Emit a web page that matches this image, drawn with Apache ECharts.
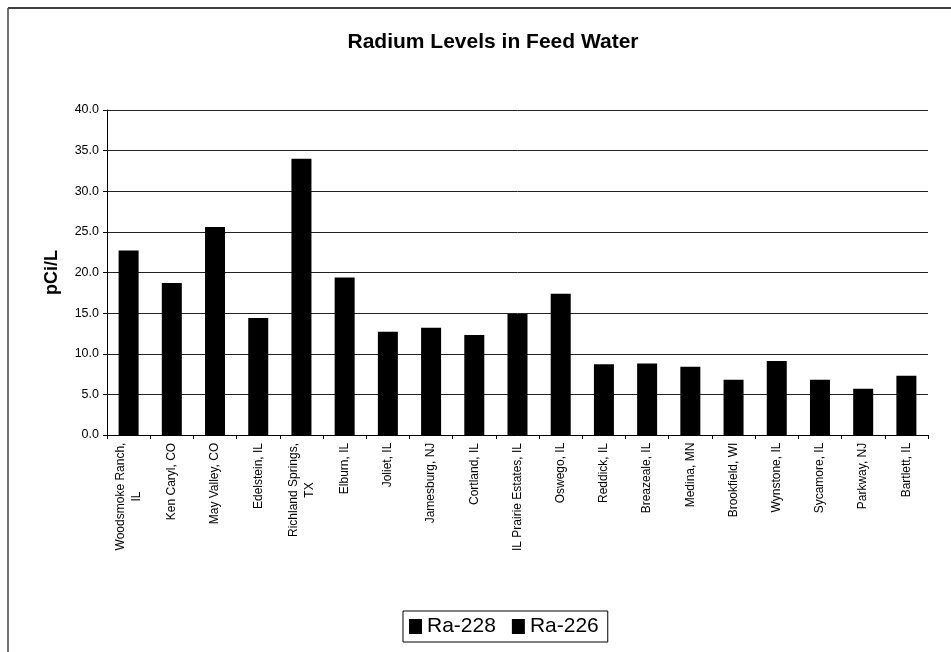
<!DOCTYPE html>
<html>
<head>
<meta charset="utf-8">
<script src="https://cdn.jsdelivr.net/npm/echarts@6/dist/echarts.min.js"></script>
<style>
html,body{margin:0;padding:0;background:#fff;}
#chart{width:951px;height:652px;}
</style>
</head>
<body>
<div id="chart"></div>
<script>
// Data
const categories = [
  "Woodsmoke Ranch,\nIL", "Ken Caryl, CO", "May Valley, CO", "Edelstein, IL",
  "Richland Springs,\nTX", "Elburn, IL", "Joliet, IL", "Jamesburg, NJ",
  "Cortland, IL", "IL Prairie Estates, IL", "Oswego, IL", "Reddick, IL",
  "Breazeale, IL", "Medina, MN", "Brookfield, WI", "Wynstone, IL",
  "Sycamore, IL", "Parkway, NJ", "Bartlett, IL"
];
// Both series are drawn in black and stacked; the split between them cannot be
// seen in the picture, so the visible stacked height is kept in Ra-226 and
// Ra-228 carries no readable values.
const ra228 = [null, null, null, null, null, null, null, null, null, null,
               null, null, null, null, null, null, null, null, null];
const ra226 = [22.7, 18.7, 25.6, 14.4, 34.0, 19.4, 12.7, 13.2, 12.3, 14.9,
               17.4, 8.7, 8.8, 8.4, 6.8, 9.1, 6.8, 5.7, 7.3];
const yTicks = { min: 0, max: 40, interval: 5 };

const FONT = 'Liberation Sans, Arial, sans-serif';
const LABEL_SIZE = 12;

// rich styles so that the lines of a two-line label are centred on each other
const ctx = document.createElement('canvas').getContext('2d');
ctx.font = LABEL_SIZE + 'px ' + FONT;
const rich = {};
categories.forEach((c, i) => {
  const w = Math.max(...c.split('\n').map(s => ctx.measureText(s).width));
  rich['w' + i] = { width: Math.ceil(w) + 1, align: 'center', fontFamily: FONT,
                    fontSize: LABEL_SIZE, color: '#000', lineHeight: 16 };
});

const chart = echarts.init(document.getElementById('chart'), null, { renderer: 'canvas' });
chart.setOption({
  animation: false,
  backgroundColor: '#ffffff',
  title: {
    text: 'Radium Levels in Feed Water',
    left: 488, top: 27, textAlign: 'center',
    textStyle: { fontFamily: FONT, fontSize: 21, fontWeight: 'bold', color: '#000' }
  },
  legend: {
    data: ['Ra-228', 'Ra-226'],
    left: 403, top: 611,
    orient: 'horizontal',
    icon: 'rect',
    itemWidth: 13, itemHeight: 15, itemGap: 16,
    borderColor: '#000', borderWidth: 1,
    padding: [5, 9, 5, 6],
    textStyle: { fontFamily: FONT, fontSize: 21, color: '#000' }
  },
  grid: { left: 107, right: 23, top: 110, bottom: 217, containLabel: false },
  xAxis: {
    type: 'category',
    data: categories,
    axisLine: { lineStyle: { color: '#000', width: 1 } },
    axisTick: { show: true, length: 4, lineStyle: { color: '#000' } },
    axisLabel: {
      rotate: 90, margin: 7, interval: 0,
      fontFamily: FONT, fontSize: LABEL_SIZE, color: '#000', lineHeight: 16,
      formatter: (v, i) => v.split('\n').map(s => '{w' + i + '|' + s + '}').join('\n'),
      rich: rich
    }
  },
  yAxis: {
    type: 'value',
    min: yTicks.min, max: yTicks.max, interval: yTicks.interval,
    name: 'pCi/L', nameLocation: 'middle', nameGap: 46, nameRotate: 90,
    nameTextStyle: { fontFamily: FONT, fontSize: 18, fontWeight: 'bold', color: '#000' },
    axisLine: { show: true, lineStyle: { color: '#000', width: 1 } },
    axisTick: { show: true, length: 4, lineStyle: { color: '#000' } },
    axisLabel: {
      margin: 8, fontFamily: FONT, fontSize: 12.5, color: '#000',
      formatter: v => v.toFixed(1)
    },
    splitLine: { show: true, lineStyle: { color: '#222', width: 1 } }
  },
  series: [
    { name: 'Ra-228', type: 'bar', stack: 'ra', data: ra228, barWidth: 20,
      itemStyle: { color: '#000' } },
    { name: 'Ra-226', type: 'bar', stack: 'ra', data: ra226, barWidth: 20,
      itemStyle: { color: '#000' } }
  ],
  graphic: [
    { type: 'line', shape: { x1: 8, y1: 8, x2: 951, y2: 8 },
      style: { stroke: '#000', lineWidth: 1.5 } },
    { type: 'line', shape: { x1: 8, y1: 8, x2: 8, y2: 652 },
      style: { stroke: '#444', lineWidth: 1.5 } }
  ]
});
</script>
</body>
</html>
